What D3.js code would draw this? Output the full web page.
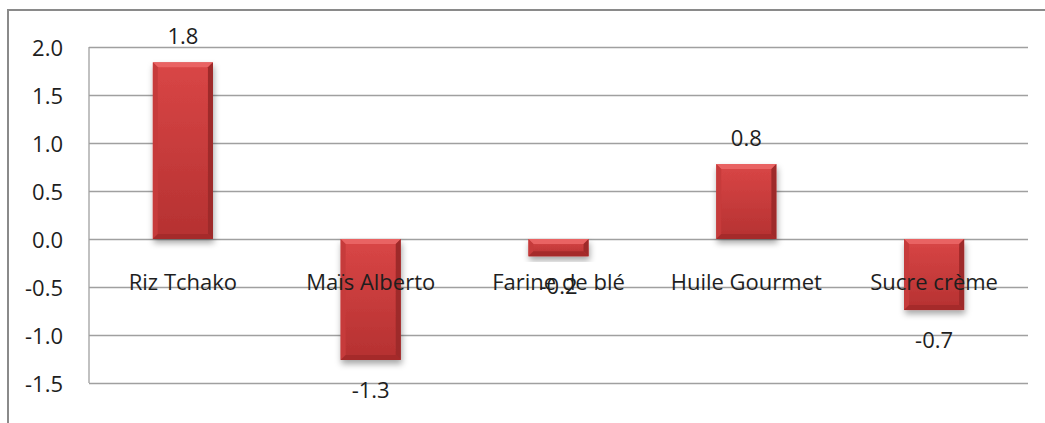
<!DOCTYPE html>
<html>
<head>
<meta charset="utf-8">
<script src="https://cdn.jsdelivr.net/npm/d3@7"></script>
<style>
  html, body { margin: 0; padding: 0; background: #fff; }
  svg { display: block; }
  text { font-family: "Open Sans", "Noto Sans", sans-serif; fill: #1e1e1e; }
</style>
</head>
<body>
<svg id="chart" width="1045" height="423"></svg>
<script>
const categories = ["Riz Tchako", "Maïs Alberto", "Farine de blé", "Huile Gourmet", "Sucre crème"];
const values = [1.84, -1.26, -0.18, 0.78, -0.74];
const yTicks = [-1.5, -1.0, -0.5, 0.0, 0.5, 1.0, 1.5, 2.0];

const W = 1045, H = 423;
const plot = { left: 89, right: 1028, top: 47, bottom: 383 };
const svg = d3.select("#chart");
const locale = d3.formatLocale({ decimal: ".", thousands: ",", grouping: [3], currency: ["", ""], minus: "-" });
const fmt = locale.format(".1f");

const defs = svg.append("defs");
const grad = defs.append("linearGradient").attr("id", "barGrad")
  .attr("x1", 0).attr("y1", 0).attr("x2", 0).attr("y2", 1);
grad.append("stop").attr("offset", "0%").attr("stop-color", "#d94646");
grad.append("stop").attr("offset", "100%").attr("stop-color", "#b53131");
const f = defs.append("filter").attr("id", "shadow")
  .attr("x", "-30%").attr("y", "-30%").attr("width", "160%").attr("height", "160%");
f.append("feDropShadow").attr("dx", 1).attr("dy", 4).attr("stdDeviation", 3)
  .attr("flood-color", "#000").attr("flood-opacity", 0.35);

// outer chart border
svg.append("rect").attr("x", 8).attr("y", 10).attr("width", W + 20).attr("height", H + 20)
  .attr("fill", "none").attr("stroke", "#8a8a8a").attr("stroke-width", 2);

const x = d3.scaleBand().domain(categories).range([plot.left, plot.right])
  .paddingInner(0.68).paddingOuter(0.34);
const xc = d3.scaleBand().domain(categories).range([plot.left, plot.right]).padding(0);
const y = d3.scaleLinear().domain([-1.5, 2.0]).range([plot.bottom, plot.top]);

// gridlines
const grid = svg.append("g").attr("transform", `translate(${plot.left},0)`)
  .call(d3.axisLeft(y).tickValues(yTicks).tickSize(-(plot.right - plot.left)).tickFormat(""));
grid.select(".domain").remove();
grid.selectAll(".tick line").attr("stroke", "#a0a0a0").attr("stroke-width", 1.3);

// left axis line
svg.append("line").attr("x1", plot.left).attr("x2", plot.left)
  .attr("y1", y(2.0)).attr("y2", y(-1.5)).attr("stroke", "#a0a0a0").attr("stroke-width", 1.3);

// tick labels
const yAxis = svg.append("g").attr("transform", `translate(63,0)`)
  .call(d3.axisLeft(y).tickValues(yTicks).tickSize(0).tickPadding(0).tickFormat(fmt));
yAxis.select(".domain").remove();
yAxis.selectAll("text").attr("font-size", 22).attr("dy", "0.4em")
  .style("font-family", '"Open Sans", sans-serif').attr("fill", "#1e1e1e");

// bars
const bv = 5;
const bars = svg.append("g").selectAll("g").data(categories).join("g")
  .attr("filter", "url(#shadow)");
bars.each(function(c, i) {
  const g = d3.select(this);
  const v = values[i];
  const x0 = x(c), w = x.bandwidth();
  const y0 = Math.min(y(v), y(0)), h = Math.abs(y(v) - y(0));
  g.append("rect").attr("x", x0).attr("y", y0).attr("width", w).attr("height", h)
    .attr("fill", "url(#barGrad)");
  const b = Math.min(bv, h / 2);
  g.append("path").attr("d", `M${x0},${y0}L${x0 + w},${y0}L${x0 + w - b},${y0 + b}L${x0 + b},${y0 + b}Z`)
    .attr("fill", "#e96464");
  g.append("path").attr("d", `M${x0},${y0}L${x0 + b},${y0 + b}L${x0 + b},${y0 + h - b}L${x0},${y0 + h}Z`)
    .attr("fill", "#c63b3b");
  g.append("path").attr("d", `M${x0 + w},${y0}L${x0 + w - b},${y0 + b}L${x0 + w - b},${y0 + h - b}L${x0 + w},${y0 + h}Z`)
    .attr("fill", "#9e2a2a");
  g.append("path").attr("d", `M${x0},${y0 + h}L${x0 + b},${y0 + h - b}L${x0 + w - b},${y0 + h - b}L${x0 + w},${y0 + h}Z`)
    .attr("fill", "#a52c2c");
});

// category labels
svg.append("g").selectAll("text").data(categories).join("text")
  .attr("x", d => xc(d) + xc.bandwidth() / 2).attr("y", 290)
  .attr("text-anchor", "middle").attr("font-size", 22).text(d => d);

// value labels
svg.append("g").selectAll("text").data(categories).join("text")
  .attr("x", d => x(d) + x.bandwidth() / 2)
  .attr("y", (d, i) => values[i] >= 0 ? y(values[i]) - 18 : y(values[i]) + 38)
  .attr("text-anchor", "middle").attr("font-size", 22)
  .text((d, i) => fmt(values[i]));
</script>
</body>
</html>
